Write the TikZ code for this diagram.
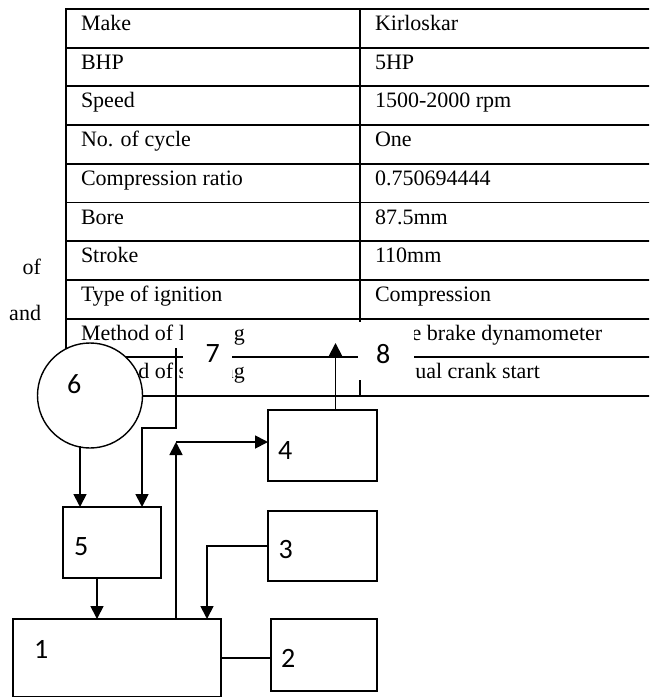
\documentclass[tikz,border=0pt]{standalone}
\usepackage{fontspec}
\setmainfont{Liberation Serif}
\newfontfamily\numfont{Carlito}
\usetikzlibrary{arrows.meta}
\begin{document}
\begin{tikzpicture}[x=1pt,y=-1pt,
  tline/.style={line width=1.8pt},
  cell/.style={anchor=base west,inner sep=0pt,outer sep=0pt,font=\fontsize{22}{26}\selectfont},
  body/.style={anchor=base east,inner sep=0pt,outer sep=0pt,font=\fontsize{22}{26}\selectfont},
  maskbox/.style={fill=white,draw=none},
  blk/.style={draw,line width=1.8pt,fill=white,rectangle,inner sep=0pt,outer sep=0pt},
  num/.style={anchor=base west,inner sep=0pt,outer sep=0pt,font=\numfont\fontsize{28}{32}\selectfont},
  arr/.style={line width=1.8pt,-{Triangle[length=13pt,width=13pt]}},
  wire/.style={line width=1.5pt}]
\useasboundingbox (0,0) rectangle (649,698);
\clip (0,0) rectangle (649,698);

% ---- table (background) ----
\foreach \y in {9,47.7,86.4,125.1,163.8,202.5,241.2,279.9,318.6,357.3,396}
  \draw[tline] (65.1,\y) -- (660,\y);
\draw[tline] (66,8.1) -- (66,396.9);
\draw[tline] (360,8.1) -- (360,396.9);

\node[cell] (l1) at (81,30.5) {Make};
\node[cell] (r1) at (375,30.5) {Kirloskar};
\node[cell] (l2) at (81,69.2) {BHP};
\node[cell] (r2) at (375,69.2) {5HP};
\node[cell] (l3) at (81,107.9) {Speed};
\node[cell] (r3) at (375,107.9) {1500-2000 rpm};
\node[cell] (l4) at (81,146.6) {No. of cycle};
\node[cell] (r4) at (375,146.6) {One};
\node[cell] (l5) at (81,185.3) {Compression ratio};
\node[cell] (r5) at (375,185.3) {0.750694444};
\node[cell] (l6) at (81,224) {Bore};
\node[cell] (r6) at (375,224) {87.5mm};
\node[cell] (l7) at (81,262.7) {Stroke};
\node[cell] (r7) at (375,262.7) {110mm};
\node[cell] (l8) at (81,301.4) {Type of ignition};
\node[cell] (r8) at (375,301.4) {Compression};
% partly hidden rows: only the visible pieces
\node[cell] (l9a) at (81,340.1) {Method of l};
\node[cell] (l9b) at (233.8,340.1) {g};
\node[cell] (r9) at (411.7,340.1) {e brake dynamometer};
\node[cell] (l10a) at (138.4,378.8) {d of s};
\node[cell] (l10b) at (222.8,378.8) {ng};
\node[cell] (r10) at (415.3,378.8) {ual crank start};

\node[body] (tof) at (41,274) {of};
\node[body] (tand) at (41,320.5) {and};

% ---- white label boxes covering the table ----
\fill[maskbox] (183,321) rectangle (232,392);
\fill[maskbox] (358,321.5) rectangle (414,379.5);

% ---- circle 6 ----
\node[circle,draw,line width=1.4pt,fill=white,minimum size=105pt,inner sep=0pt,outer sep=0pt] (c6) at (90,395.5) {};

% ---- blocks ----
\node[blk,minimum width=207.4pt,minimum height=77.5pt] (b1) at (117,657.75) {};
\node[blk,minimum width=106pt,minimum height=71.7pt] (b2) at (323.7,654.85) {};
\node[blk,minimum width=109pt,minimum height=70pt] (b3) at (322.5,546) {};
\node[blk,minimum width=109pt,minimum height=71pt] (b4) at (322.5,445.5) {};
\node[blk,minimum width=98pt,minimum height=71pt] (b5) at (112,542.5) {};

% ---- labels ----
\node[num] (n1) at (34,658.3) {1};
\node[num] (n2) at (281,667.3) {2};
\node[num] (n3) at (278.5,558.3) {3};
\node[num] (n4) at (278,459) {4};
\node[num] (n5) at (74,555) {5};
\node[num] (n6) at (67,393.3) {6};
\node[num] (n7) at (205.5,362) {7};
\node[num] (n8) at (376,363) {8};

% ---- connectors ----
\coordinate (p6) at ([xshift=-10pt,yshift=2pt]c6.south);
\draw[arr] (p6) -- (p6 |- b5.north);

\coordinate (t7) at (176,348);
\coordinate (k7) at (142,428);
\draw[arr] (t7) -- (t7 |- k7) -- (k7) -- (k7 |- b5.north);

\coordinate (p5) at ([xshift=-15pt]b5.south);
\draw[arr] (p5) -- (p5 |- b1.north);

\draw[arr] (b3.west) -| ([xshift=90pt]b1.north);

\coordinate (u1) at ([xshift=59pt]b1.north);
\coordinate (j4) at ([yshift=3.5pt]b4.west -| u1);
\draw[arr] (u1) -- (j4);
\draw[arr] (j4) -- ([yshift=3.5pt]b4.west);

\coordinate (p4) at ([xshift=13pt]b4.north);
\coordinate (t8) at ([xshift=13pt,yshift=67pt]b4.north);
\draw[arr] (p4) -- (t8);

\draw[wire] (b1.east) -- (b1.east -| b2.west);
\end{tikzpicture}
\end{document}
